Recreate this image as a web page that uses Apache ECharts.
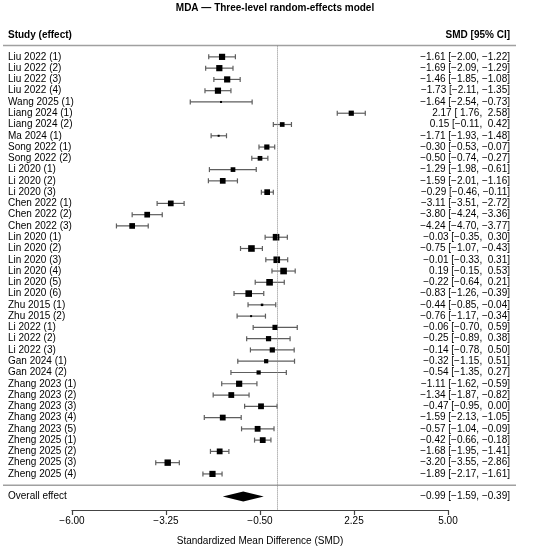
<!DOCTYPE html>
<html>
<head>
<meta charset="UTF-8">
<title>MDA forest plot</title>
<script src="https://cdn.jsdelivr.net/npm/echarts@6/dist/echarts.min.js"></script>
<style>
  body { margin: 0; background: #fff; }
  #forest { width: 550px; height: 551px; }
</style>
</head>
<body>
<div id="forest"></div>
<script>
// study rows, top to bottom
var studies = ['Liu 2022 (1)', 'Liu 2022 (2)', 'Liu 2022 (3)', 'Liu 2022 (4)', 'Wang 2025 (1)',
  'Liang 2024 (1)', 'Liang 2024 (2)', 'Ma 2024 (1)', 'Song 2022 (1)', 'Song 2022 (2)',
  'Li 2020 (1)', 'Li 2020 (2)', 'Li 2020 (3)', 'Chen 2022 (1)', 'Chen 2022 (2)', 'Chen 2022 (3)',
  'Lin 2020 (1)', 'Lin 2020 (2)', 'Lin 2020 (3)', 'Lin 2020 (4)', 'Lin 2020 (5)', 'Lin 2020 (6)',
  'Zhu 2015 (1)', 'Zhu 2015 (2)', 'Li 2022 (1)', 'Li 2022 (2)', 'Li 2022 (3)',
  'Gan 2024 (1)', 'Gan 2024 (2)', 'Zhang 2023 (1)', 'Zhang 2023 (2)', 'Zhang 2023 (3)',
  'Zhang 2023 (4)', 'Zhang 2023 (5)', 'Zheng 2025 (1)', 'Zheng 2025 (2)', 'Zheng 2025 (3)', 'Zheng 2025 (4)'];
var smd = [-1.61, -1.69, -1.46, -1.73, -1.64, 2.17, 0.15, -1.71, -0.30, -0.50,
  -1.29, -1.59, -0.29, -3.11, -3.80, -4.24, -0.03, -0.75, -0.01, 0.19, -0.22, -0.83,
  -0.44, -0.76, -0.06, -0.25, -0.14, -0.32, -0.54, -1.11, -1.34, -0.47, -1.59, -0.57,
  -0.42, -1.68, -3.20, -1.89];
var ciLow = [-2.00, -2.09, -1.85, -2.11, -2.54, 1.76, -0.11, -1.93, -0.53, -0.74,
  -1.98, -2.01, -0.46, -3.51, -4.24, -4.70, -0.35, -1.07, -0.33, -0.15, -0.64, -1.26,
  -0.85, -1.17, -0.70, -0.89, -0.78, -1.15, -1.35, -1.62, -1.87, -0.95, -2.13, -1.04,
  -0.66, -1.95, -3.55, -2.17];
var ciHigh = [-1.22, -1.29, -1.08, -1.35, -0.73, 2.58, 0.42, -1.48, -0.07, -0.27,
  -0.61, -1.16, -0.11, -2.72, -3.36, -3.77, 0.30, -0.43, 0.31, 0.53, 0.21, -0.39,
  -0.04, -0.34, 0.59, 0.38, 0.50, 0.51, 0.27, -0.59, -0.82, 0.00, -1.05, -0.09,
  -0.18, -1.41, -2.86, -1.61];
// relative weight (drives box size)
var weights = [3.1, 3.1, 3.1, 3.1, 1, 2.6, 2.35, 1, 2.6, 2.35,
  2.35, 2.85, 2.85, 2.85, 2.85, 2.85, 3.3, 3.3, 3.3, 3.3, 3.3, 3.3,
  1.25, 1, 2.6, 2.6, 2.6, 2.1, 2.1, 3.1, 2.9, 2.9, 2.9, 2.9,
  2.9, 2.9, 3.2, 3.1];
var overall = { est: -0.99, lo: -1.59, hi: -0.39 };
var xTicks = [-6, -3.25, -0.5, 2.25, 5];

var FONT = '"Liberation Sans", Arial, sans-serif';

function num(v) {
  return (v < 0 ? '\u2212' : ' ') + Math.abs(v).toFixed(2);
}
function ciText(e, l, h) {
  return num(e) + ' [' + num(l) + ', ' + num(h) + ']';
}

var studyData = [];
for (var i = 0; i < studies.length; i++) {
  studyData.push([smd[i], ciLow[i], ciHigh[i], i, weights[i]]);
}
var overallRow = studies.length + 1;

var chart = echarts.init(document.getElementById('forest'));
chart.setOption({
  animation: false,
  title: {
    text: 'MDA \u2014 Three-level random-effects model',
    left: 'center', top: 3, padding: 0,
    textStyle: { fontFamily: FONT, fontSize: 10, fontWeight: 'bold', color: '#000' }
  },
  graphic: [
    { type: 'text', left: 8, top: 30,
      style: { text: 'Study (effect)', font: 'bold 10px ' + FONT, fill: '#000' } },
    { type: 'text', right: 40, top: 30,
      style: { text: 'SMD [95% CI]', font: 'bold 10px ' + FONT, fill: '#000' } }
  ],
  grid: { left: 72, right: 102, top: 45.6, bottom: 36.5 },
  xAxis: {
    type: 'value', min: -6, max: 5,
    splitLine: { show: false },
    axisLine: { onZero: false, lineStyle: { color: '#444', width: 1.2 } },
    axisTick: { customValues: xTicks, length: 5, lineStyle: { color: '#444', width: 1.2 } },
    axisLabel: {
      customValues: xTicks, margin: 6, color: '#000', fontSize: 10, fontFamily: FONT,
      formatter: function (v) { return (v < 0 ? '\u2212' : '') + Math.abs(v).toFixed(2); }
    },
    name: 'Standardized Mean Difference (SMD)',
    nameLocation: 'middle', nameGap: 26,
    nameTextStyle: { color: '#000', fontSize: 10, fontFamily: FONT }
  },
  yAxis: { type: 'value', inverse: true, min: -1, max: 40.2, show: false },
  series: [
    {
      // header / footer rules
      type: 'custom',
      silent: true,
      data: [[0, -1], [0, studies.length]],
      renderItem: function (params, api) {
        var y = api.coord([0, api.value(1)])[1];
        return { type: 'line', shape: { x1: 3, y1: y, x2: 516, y2: y },
          style: { stroke: '#a0a0a0', lineWidth: 1.5 } };
      }
    },
    {
      type: 'custom',
      silent: true,
      data: studyData,
      renderItem: function (params, api) {
        var idx = params.dataIndex;
        var y = api.coord([0, api.value(3)])[1];
        var xe = api.coord([api.value(0), 0])[0];
        var xl = api.coord([api.value(1), 0])[0];
        var xh = api.coord([api.value(2), 0])[0];
        var s = api.value(4) * 2;
        var grey = { stroke: '#5e5e5e', lineWidth: 1.2 };
        return {
          type: 'group',
          children: [
            { type: 'line', shape: { x1: xl, y1: y, x2: xh, y2: y }, style: grey },
            { type: 'line', shape: { x1: xl, y1: y - 2.5, x2: xl, y2: y + 2.5 }, style: grey },
            { type: 'line', shape: { x1: xh, y1: y - 2.5, x2: xh, y2: y + 2.5 }, style: grey },
            { type: 'rect', shape: { x: xe - s / 2, y: y - s / 2, width: s, height: s },
              style: { fill: '#000' } },
            { type: 'text', style: { text: studies[idx], x: 8, y: y, verticalAlign: 'middle',
              font: '10px ' + FONT, fill: '#000' } },
            { type: 'text', style: { text: ciText(smd[idx], ciLow[idx], ciHigh[idx]), x: 510, y: y,
              align: 'right', verticalAlign: 'middle', font: '10px ' + FONT, fill: '#000' } }
          ]
        };
      },
      markLine: {
        silent: true, symbol: 'none', label: { show: false },
        lineStyle: { type: 'dotted', color: '#8a8a8a', width: 1 },
        data: [{ xAxis: 0 }]
      }
    },
    {
      type: 'custom',
      silent: true,
      data: [[overall.est, overall.lo, overall.hi, overallRow]],
      renderItem: function (params, api) {
        var y = api.coord([0, api.value(3)])[1];
        var xe = api.coord([api.value(0), 0])[0];
        var xl = api.coord([api.value(1), 0])[0];
        var xh = api.coord([api.value(2), 0])[0];
        return {
          type: 'group',
          children: [
            { type: 'polygon', shape: { points: [[xl, y], [xe, y - 5], [xh, y], [xe, y + 5]] },
              style: { fill: '#000' } },
            { type: 'text', style: { text: 'Overall effect', x: 8, y: y, verticalAlign: 'middle',
              font: '10px ' + FONT, fill: '#000' } },
            { type: 'text', style: { text: ciText(overall.est, overall.lo, overall.hi), x: 510, y: y,
              align: 'right', verticalAlign: 'middle', font: '10px ' + FONT, fill: '#000' } }
          ]
        };
      }
    }
  ]
});
</script>
</body>
</html>
